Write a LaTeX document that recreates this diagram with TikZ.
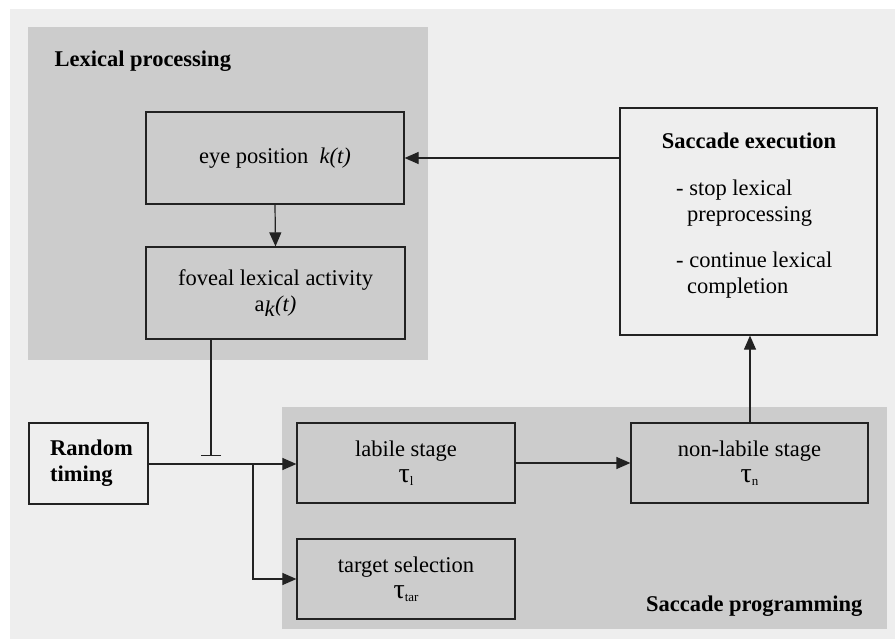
\documentclass[tikz,border=0pt]{standalone}
\usepackage{fontspec}
\setmainfont{Liberation Serif}
\usetikzlibrary{arrows.meta,calc}
\definecolor{bgc}{HTML}{EEEEEE}
\definecolor{regc}{HTML}{CCCCCC}
\definecolor{linec}{HTML}{222222}
\newcommand{\tausub}[1]{{\fontsize{28}{28}\selectfont τ}\raisebox{-3pt}{\fontsize{13}{13}\selectfont #1}}
\begin{document}
\begin{tikzpicture}[x=1pt,y=-1pt,
  every node/.style={font=\fontsize{22.5}{26}\selectfont, text=black},
  box/.style={draw=linec, line width=1.2pt, inner sep=0pt, align=center},
  gbox/.style={box, fill=regc},
  wbox/.style={box, fill=bgc},
  conn/.style={draw=linec, line width=1.2pt},
  arr/.style={conn, -{Triangle[length=14pt,width=12pt]}},
  inh/.style={conn, -{Bar[width=20pt,line width=1.2pt]}},
  ttl/.style={font=\fontsize{22.5}{26}\selectfont\bfseries}]
\useasboundingbox (0,0) rectangle (895,639);
\fill[bgc] (10,9) rectangle (895,639);
\fill[regc] (28,27) rectangle (428,360);
\fill[regc] (282,407) rectangle (887,629);
\node[ttl, anchor=base west] (lexlbl) at (51,67) {Lexical processing};
\node[ttl, anchor=base east] (proglbl) at (866,611) {Saccade programming};

\node[gbox, minimum width=258pt, minimum height=92pt] (eye) at (275,158) {eye position~~\textit{k(t)}};
\node[gbox, minimum width=259pt, minimum height=92pt] (fov) at (275.5,293) {foveal lexical activity\\ a\raisebox{-5pt}{\textit{k}}\textit{(t)}};
\node[wbox, minimum width=257pt, minimum height=227pt] (exec) at (748.5,221.5) {};
\node[ttl, anchor=base] (exect) at (749,149) {Saccade execution};
\node[anchor=north west, align=left, inner sep=0pt] (exectxt) at (676,180) {- stop lexical\\\hspace{11pt}preprocessing\\[20pt]- continue lexical\\\hspace{11pt}completion};

\node[wbox, minimum width=119pt, minimum height=81pt, align=left, font=\fontsize{22.5}{26}\selectfont\bfseries] (rand) at (88.5,463.5) {\hspace*{6pt}Random\\\hspace*{6pt}timing};
\node[gbox, minimum width=218pt, minimum height=80pt] (lab) at (406,463) {labile stage\\ \tausub{l}};
\node[gbox, minimum width=218pt, minimum height=80pt] (tar) at (406,579) {target selection\\ \tausub{tar}};
\node[gbox, minimum width=237pt, minimum height=80pt] (nlab) at (749.5,463) {non-labile stage\\ \tausub{n}};

\coordinate (br) at (253,464);
\coordinate (inhend) at (211,456);

\draw[arr] (exec.west |- eye.east) -- (eye.east);
\draw[arr] (eye.south) -- (fov.north);
\draw[arr] (750,423) coordinate (nl) -- (nl |- exec.south);
\draw[arr] (rand.east |- br) -- (lab.west |- br);
\draw[arr] (br) |- (tar.west);
\draw[arr] (lab.east) -- (nlab.west);
\draw[inh] (fov.south -| inhend) -- (inhend);
\end{tikzpicture}
\end{document}
